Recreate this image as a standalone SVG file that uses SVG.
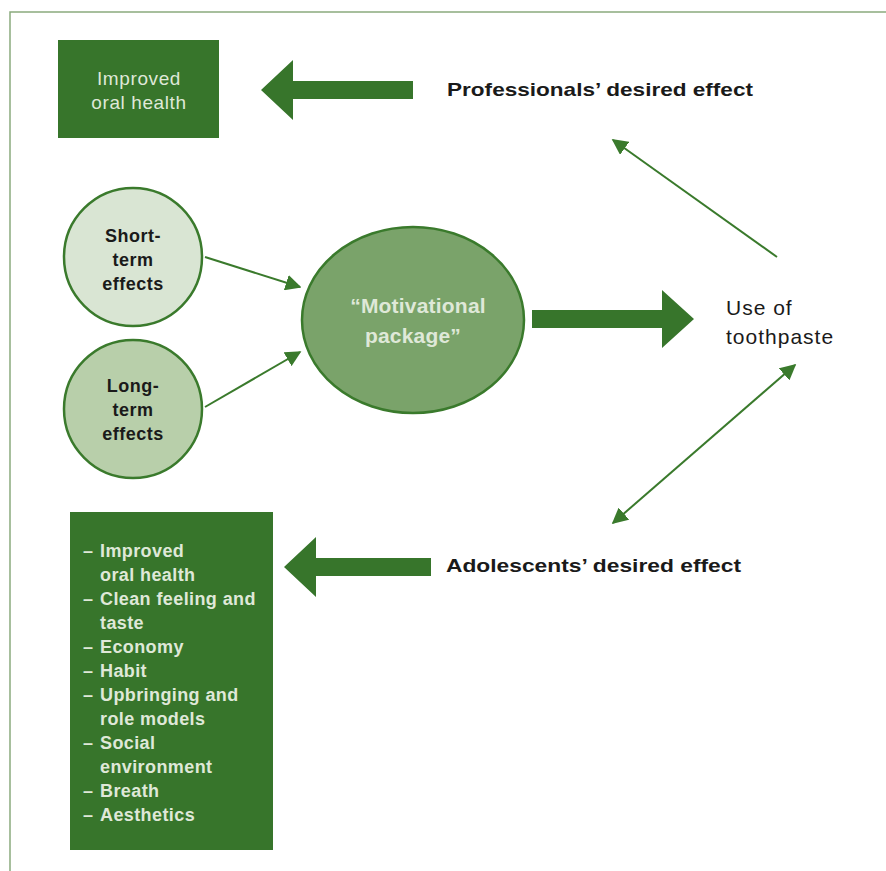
<svg xmlns="http://www.w3.org/2000/svg" width="886" height="871" viewBox="0 0 886 871">
<style>
.t{font-family:"Liberation Sans","DejaVu Sans",sans-serif}
.b{font-weight:bold}
.lt{fill:#dfe8d8}
.dk{fill:#1a1a1a}
.box{fill:#37752b}
.con{stroke:#3a7a2c;stroke-width:2;fill:none}
.fat{fill:#37752b}
.ct{font-size:18px;letter-spacing:0.5px}
</style>
<defs>
<marker id="ah2" viewBox="0 0 10 10" refX="9" refY="5" markerWidth="16" markerHeight="16" markerUnits="userSpaceOnUse" orient="auto-start-reverse">
<path d="M0,0 L10,5 L0,10 z" fill="#3a7a2c"/>
</marker>
</defs>
<rect width="886" height="871" fill="#fff"/>
<path d="M10,871 V12 H886" fill="none" stroke="#8aaa7d" stroke-width="1.5"/>

<g id="improved-oral-health">
<rect class="box" x="58" y="40" width="161" height="98"/>
<text class="t lt" x="139" y="85" font-size="19" letter-spacing="0.6" text-anchor="middle">Improved</text>
<text class="t lt" x="139" y="109" font-size="19" letter-spacing="0.6" text-anchor="middle">oral health</text>
</g>

<g id="professionals">
<text class="t b dk" x="447" y="96" font-size="19" textLength="306" lengthAdjust="spacingAndGlyphs">Professionals’ desired effect</text>
</g>

<g id="short-term">
<circle cx="133" cy="257" r="69" fill="#d9e5d3" stroke="#3a7a2c" stroke-width="2.5"/>
<text class="t b dk ct" x="133" y="242" text-anchor="middle">Short-</text>
<text class="t b dk ct" x="133" y="266" text-anchor="middle">term</text>
<text class="t b dk ct" x="133" y="290" text-anchor="middle">effects</text>
</g>

<g id="long-term">
<circle cx="133" cy="409" r="69" fill="#b8cfaa" stroke="#3a7a2c" stroke-width="2.5"/>
<text class="t b dk ct" x="133" y="392" text-anchor="middle">Long-</text>
<text class="t b dk ct" x="133" y="416" text-anchor="middle">term</text>
<text class="t b dk ct" x="133" y="440" text-anchor="middle">effects</text>
</g>

<g id="motivational-package">
<ellipse cx="413" cy="320" rx="111" ry="93" fill="#7aa36a" stroke="#3a7a2c" stroke-width="2.5"/>
<text class="t b lt" x="418" y="313" font-size="21" letter-spacing="0.2" text-anchor="middle">“Motivational</text>
<text class="t b lt" x="413" y="343" font-size="21" letter-spacing="0.2" text-anchor="middle">package”</text>
</g>

<g id="use-of-toothpaste">
<text class="t dk" x="726" y="315" font-size="21" letter-spacing="1">Use of</text>
<text class="t dk" x="726" y="344" font-size="21" letter-spacing="1">toothpaste</text>
</g>

<g id="adolescents">
<text class="t b dk" x="446" y="572" font-size="19" textLength="295" lengthAdjust="spacingAndGlyphs">Adolescents’ desired effect</text>
</g>

<g id="adolescent-effects">
<rect class="box" x="70" y="512" width="203" height="338"/>
<g class="t b lt" font-size="18" letter-spacing="0.4">
<text x="83" y="557">–</text><text x="100" y="557">Improved</text>
<text x="100" y="581">oral health</text>
<text x="83" y="605">–</text><text x="100" y="605">Clean feeling and</text>
<text x="100" y="629">taste</text>
<text x="83" y="653">–</text><text x="100" y="653">Economy</text>
<text x="83" y="677">–</text><text x="100" y="677">Habit</text>
<text x="83" y="701">–</text><text x="100" y="701">Upbringing and</text>
<text x="100" y="725">role models</text>
<text x="83" y="749">–</text><text x="100" y="749">Social</text>
<text x="100" y="773">environment</text>
<text x="83" y="797">–</text><text x="100" y="797">Breath</text>
<text x="83" y="821">–</text><text x="100" y="821">Aesthetics</text>
</g>
</g>

<g id="connectors">
<polygon class="fat" points="261,90 293,60 293,81 413,81 413,99 293,99 293,120"/>
<polygon class="fat" points="284,567 316,537 316,558 431,558 431,576 316,576 316,597"/>
<polygon class="fat" points="694,319 662,290 662,310 532,310 532,328 662,328 662,348"/>
<line class="con" x1="205" y1="257" x2="300" y2="287" marker-end="url(#ah2)"/>
<line class="con" x1="205" y1="407" x2="300" y2="352" marker-end="url(#ah2)"/>
<line class="con" x1="777" y1="257" x2="613" y2="140" marker-end="url(#ah2)"/>
<line class="con" x1="795" y1="365" x2="613" y2="523" marker-start="url(#ah2)" marker-end="url(#ah2)"/>
</g>
</svg>
